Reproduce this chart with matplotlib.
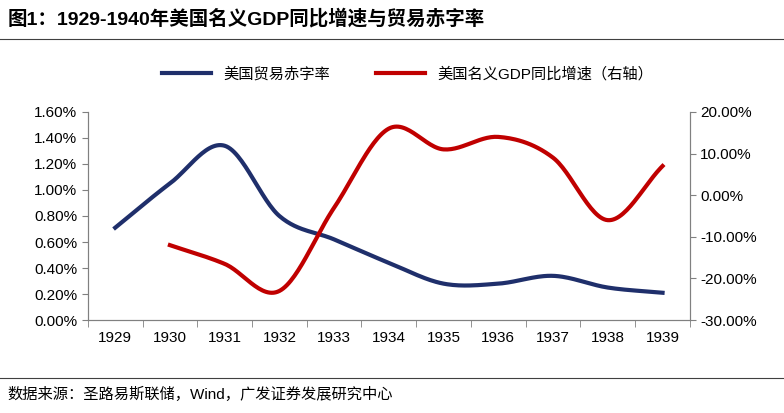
import matplotlib.pyplot as plt
import numpy as np
from matplotlib.lines import Line2D

plt.rcParams['font.family'] = ['Liberation Sans', 'Noto Sans CJK SC', 'DejaVu Sans']

years = ["1929", "1930", "1931", "1932", "1933", "1934", "1935", "1936", "1937", "1938", "1939"]
trade_deficit = [0.71, 1.05, 1.34, 0.80, 0.62, 0.44, 0.28, 0.28, 0.34, 0.25, 0.21]
gdp_years = [1, 2, 3, 4, 5, 6, 7, 8, 9, 10]
gdp_growth = [-12.0, -16.5, -23.0, -3.0, 16.0, 11.0, 14.0, 9.0, -6.0, 7.0]

BLUE = "#1F2F6B"
RED = "#C00000"


def smooth(x, y, n=30):
    # Catmull-Rom curve through the points, like Excel's smoothed line
    x = np.asarray(x, float)
    y = np.asarray(y, float)
    px = np.concatenate([[2 * x[0] - x[1]], x, [2 * x[-1] - x[-2]]])
    py = np.concatenate([[2 * y[0] - y[1]], y, [2 * y[-1] - y[-2]]])
    ox, oy = [], []
    t = np.linspace(0, 1, n)
    for i in range(1, len(px) - 2):
        for p, o in ((px, ox), (py, oy)):
            p0, p1, p2, p3 = p[i - 1], p[i], p[i + 1], p[i + 2]
            o.extend(0.5 * (2 * p1 + (-p0 + p2) * t + (2 * p0 - 5 * p1 + 4 * p2 - p3) * t ** 2
                            + (-p0 + 3 * p1 - 3 * p2 + p3) * t ** 3))
    return ox, oy


fig = plt.figure(figsize=(7.84, 4.13), dpi=100)
ax = fig.add_axes([0.112, 0.225, 0.768, 0.504])
ax2 = ax.twinx()

sx, sy = smooth(range(len(years)), trade_deficit)
ax.plot(sx, sy, color=BLUE, lw=3)
gx, gy = smooth(gdp_years, gdp_growth)
ax2.plot(gx, gy, color=RED, lw=3)

ax.set_xlim(-0.5, 10.5)
ax.set_ylim(0, 1.6)
ax.set_yticks(np.arange(0, 1.61, 0.2))
ax.set_yticklabels([f"{v:.2f}%" for v in np.arange(0, 1.61, 0.2)])
ax2.set_ylim(-30, 20)
ax2.set_yticks(range(-30, 21, 10))
ax2.set_yticklabels([f"{v:.2f}%" for v in range(-30, 21, 10)])

ax.set_xticks(range(len(years)))
ax.set_xticklabels(years)
ax.set_xticks(np.arange(-0.5, 10.6, 1), minor=True)
ax.tick_params(axis="x", which="major", length=0, pad=8, labelsize=11)
ax.tick_params(axis="x", which="minor", length=5, direction="out", color="#808080")
ax.tick_params(axis="y", labelsize=11, length=4, color="#808080")
ax2.tick_params(axis="y", labelsize=11, length=4, color="#808080")
for a in (ax, ax2):
    a.spines["top"].set_visible(False)
    for s in ("left", "right", "bottom"):
        a.spines[s].set_color("#808080")

handles = [Line2D([], [], color=BLUE, lw=3), Line2D([], [], color=RED, lw=3)]
fig.legend(handles, ["美国贸易赤字率", "美国名义GDP同比增速（右轴）"], loc="center",
           bbox_to_anchor=(0.52, 0.82), ncol=2, frameon=False, fontsize=11,
           handlelength=3.2, columnspacing=3)

fig.text(0.01, 0.955, "图1：1929-1940年美国名义GDP同比增速与贸易赤字率",
         fontsize=14, fontweight="bold", va="center")
fig.add_artist(Line2D([0.0, 1.0], [0.905, 0.905], color="#404040", lw=0.8))
fig.add_artist(Line2D([0.0, 1.0], [0.085, 0.085], color="#404040", lw=0.8))
fig.text(0.01, 0.045, "数据来源：圣路易斯联储，Wind，广发证券发展研究中心",
         fontsize=11, va="center")

fig.savefig("out.png", dpi=100, facecolor="white")
